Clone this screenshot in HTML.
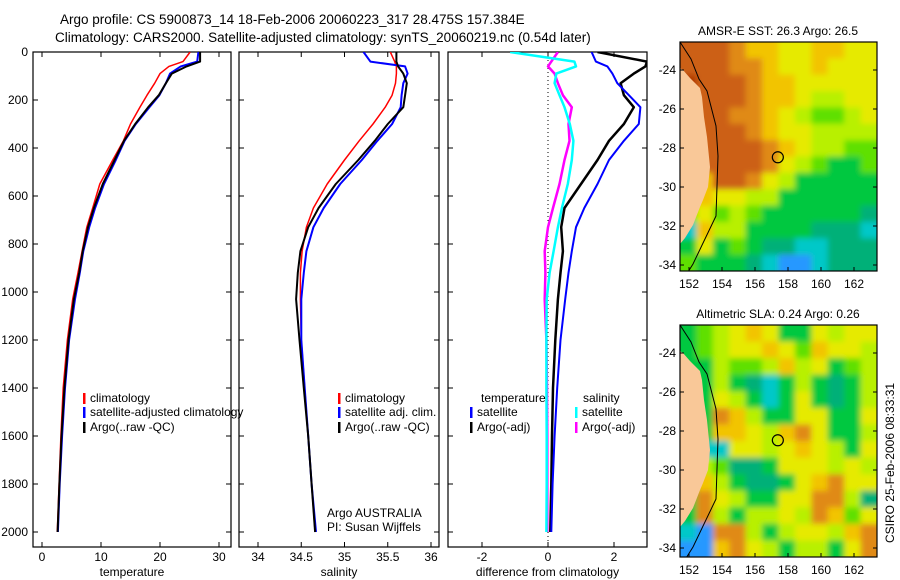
<!DOCTYPE html>
<html><head><meta charset="utf-8"><style>
body{margin:0;background:#fff}
svg{display:block;font-family:"Liberation Sans",sans-serif}
</style></head><body>
<svg id="s" width="900" height="580" xmlns="http://www.w3.org/2000/svg">
<defs>
<clipPath id="c1"><rect x="33" y="52" width="198" height="495"/></clipPath>
<clipPath id="c2"><rect x="239" y="52" width="200" height="495"/></clipPath>
<clipPath id="c3"><rect x="448" y="52" width="199" height="495"/></clipPath>
<clipPath id="cm1"><rect x="680" y="42" width="197" height="229"/></clipPath>
<clipPath id="cm2"><rect x="680" y="325" width="197" height="232"/></clipPath>
<filter id="bl" x="-10%" y="-10%" width="120%" height="120%"><feGaussianBlur stdDeviation="3"/></filter>
</defs>
<text x="60" y="24" font-size="13.5">Argo profile: CS 5900873_14 18-Feb-2006 20060223_317 28.475S 157.384E</text>
<text x="55" y="42" font-size="13.5">Climatology: CARS2000. Satellite-adjusted climatology: synTS_20060219.nc (0.54d later)</text>
<g id="g"></g>
</svg>
<script>
const depths=[0,40,60,90,130,180,230,300,370,450,550,650,730,830,920,1030,1200,1400,1600,1800,2000];
const tempClim=[25.1,23.9,21.5,20.0,19.1,17.8,16.6,15.0,13.8,12.0,9.8,8.6,7.6,6.8,6.1,5.2,4.3,3.6,3.2,2.9,2.6];
const tempSat=[26.5,26.3,23.5,21.7,21.0,19.9,18.2,15.9,14.0,12.5,10.5,9.0,8.0,7.0,6.4,5.6,4.6,3.9,3.4,3.0,2.7];
const tempArgo=[26.8,26.8,24.5,22.0,21.0,19.8,18.0,15.8,13.9,12.3,10.3,8.8,7.8,6.9,6.3,5.4,4.5,3.8,3.3,2.95,2.65];
const salClim=[35.53,35.58,35.6,35.6,35.59,35.55,35.47,35.33,35.17,35.0,34.8,34.64,34.56,34.51,34.49,34.49,34.5,34.54,34.58,34.62,34.66];
const salSat=[35.22,35.3,35.7,35.73,35.68,35.66,35.65,35.55,35.38,35.2,34.95,34.76,34.64,34.56,34.53,34.5,34.5,34.54,34.58,34.62,34.67];
const salArgo=[35.6,35.6,35.62,35.68,35.72,35.7,35.68,35.5,35.35,35.16,34.9,34.7,34.58,34.49,34.46,34.44,34.48,34.53,34.58,34.62,34.66];
const diffTempSat=[1.32,1.45,1.8,1.95,2.1,2.45,2.8,2.75,2.3,1.85,1.5,1.1,0.85,0.72,0.62,0.52,0.38,0.28,0.2,0.14,0.1];
const diffTempArgo=[1.5,3.0,2.95,2.6,2.2,2.3,2.6,2.3,1.85,1.5,1.0,0.5,0.4,0.45,0.38,0.3,0.22,0.15,0.12,0.1,0.07];
const diffSalSat=[-1.15,0.8,0.85,0.25,0.2,0.35,0.5,0.66,0.77,0.72,0.6,0.42,0.3,0.17,0.05,-0.04,-0.05,-0.05,-0.04,-0.04,-0.05];
const diffSalArgo=[0.3,0.1,0.0,0.2,0.3,0.45,0.72,0.62,0.65,0.5,0.35,0.15,0.0,-0.1,-0.08,-0.1,-0.05,-0.03,-0.02,-0.02,-0.02];
const depthTicks=[0,200,400,600,800,1000,1200,1400,1600,1800,2000];
const tempTicks=[0,10,20,30];
const salTicks=[34,34.5,35,35.5,36];
const diffTicks=[-2,0,2];
const lonTicks=[152,154,156,158,160,162];
const latTicks=[-24,-26,-28,-30,-32,-34];

const NS="http://www.w3.org/2000/svg";
const G=document.getElementById('g');
function mk(t,a,p){const e=document.createElementNS(NS,t);for(const k in a)e.setAttribute(k,a[k]);(p||G).appendChild(e);return e;}
const yD=d=>52+d*0.24;
const panels=[
 {x0:33,x1:231,map:v=>42+v*5.9,ticks:tempTicks,title:'temperature',clip:'c1',name:'temperature'},
 {x0:239,x1:439,map:v=>258+(v-34)*86.5,ticks:salTicks,title:'salinity',clip:'c2',name:'salinity'},
 {x0:448,x1:647,map:v=>548+v*33,ticks:diffTicks,title:'difference from climatology',clip:'c3',name:'difference'}];
panels.forEach((p,i)=>{
 const f=mk('rect',{x:p.x0,y:52,width:p.x1-p.x0,height:495,fill:'none',stroke:'#000','stroke-width':1.2});
 
 
 p.ticks.forEach(v=>{const x=p.map(v);
  mk('line',{x1:x,x2:x,y1:547,y2:542,stroke:'#000'});mk('line',{x1:x,x2:x,y1:52,y2:57,stroke:'#000'});
  const t=mk('text',{x:x,y:561,'font-size':12,'text-anchor':'middle'});t.textContent=v;
  
  });
 depthTicks.forEach(d=>{const y=yD(d);
  mk('line',{x1:p.x0,x2:p.x0+5,y1:y,y2:y,stroke:'#000'});mk('line',{x1:p.x1,x2:p.x1-5,y1:y,y2:y,stroke:'#000'});
  if(i==0){const t=mk('text',{x:28,y:y+4,'font-size':12,'text-anchor':'end'});t.textContent=d;
  
  }});
 const tt=mk('text',{x:(p.x0+p.x1)/2,y:576,'font-size':12,'text-anchor':'middle'});tt.textContent=p.title;
 
 
});
const zl=mk('line',{x1:548,x2:548,y1:52,y2:547,stroke:'#000','stroke-dasharray':'1 3'});


function series(p,vals,color,w,name){
 const pts=vals.map((v,k)=>p.map(v).toFixed(1)+','+yD(depths[k]).toFixed(1)).join(' ');
 const e=mk('polyline',{points:pts,fill:'none',stroke:color,'stroke-width':w,'clip-path':'url(#'+p.clip+')','stroke-linejoin':'round'});
 
 
}
series(panels[0],tempClim,'#f00',1.5,'temp-climatology-line');
series(panels[0],tempSat,'#00f',2,'temp-satellite-line');
series(panels[0],tempArgo,'#000',2,'temp-argo-line');
series(panels[1],salClim,'#f00',1.5,'sal-climatology-line');
series(panels[1],salSat,'#00f',2,'sal-satellite-line');
series(panels[1],salArgo,'#000',2,'sal-argo-line');
series(panels[2],diffSalArgo,'#f0f',2.5,'diff-sal-argo-line');
series(panels[2],diffSalSat,'#0ff',2.5,'diff-sal-satellite-line');
series(panels[2],diffTempArgo,'#000',2.5,'diff-temp-argo-line');
series(panels[2],diffTempSat,'#00f',2,'diff-temp-satellite-line');
function leg(x,y,c,txt,name){
 if(c) mk('rect',{x:x,y:y-9,width:2.5,height:11,fill:c});
 const t=mk('text',{x:x+(c?7:0),y:y,'font-size':12});t.textContent=txt;
 
 
}
leg(83,402,'#f00','climatology','legend-climatology');
leg(83,416,'#00f','satellite-adjusted climatology','legend-satellite');
leg(83,431,'#000','Argo(..raw -QC)','legend-argo');
leg(338,402,'#f00','climatology','legend2-climatology');
leg(338,416,'#00f','satellite adj. clim.','legend2-satellite');
leg(338,431,'#000','Argo(..raw -QC)','legend2-argo');
leg(481,402,null,'temperature','legend3-temperature-header');
leg(583,402,null,'salinity','legend3-salinity-header');
leg(470,416,'#00f','satellite','legend3-temp-satellite');
leg(470,431,'#000','Argo(-adj)','legend3-temp-argo');
leg(575,416,'#0ff','satellite','legend3-sal-satellite');
leg(575,431,'#f0f','Argo(-adj)','legend3-sal-argo');
const a1=mk('text',{x:327,y:517,'font-size':12});a1.textContent='Argo AUSTRALIA';


const a2=mk('text',{x:327,y:531,'font-size':12});a2.textContent='PI: Susan Wijffels';



const pal={R:'#b03800',O:'#cc6014',o:'#e08a18',Y:'#f2c400',y:'#e6ea00',L:'#b8f000',G:'#5ee000',g:'#00c840',T:'#00b078',C:'#00c8c8',B:'#2898ff'};
const sstGrid=["OOOoYYyyYYyy","OOOooYyyYyyy","ROOOoYYyyyyy","OOOOoYYyLLyy","OOOooYyLGGLy","OOOOoYyyLLLL","OOOOOoYyLLGG","yOOOOoyLGggG","YYOOoyLggggg","LYyyLLgggggg","GyGLGggggggT","CYLLggggTTTC","gygGgTTCCTTT","GgggTCBBCTTT"];
const slaGrid=["gGLyYyggyLyy","gGLyyYyGYyyL","ggLGGLYLygGL","ggLgTCgLgTgL","ggyLgCgygTgL","ggoYLggyyggy","ggYYyLYoyggL","gCCyyLyYyLgy","gLGTTgyyyLyL","gYLgTTgyYoyy","goyLggyyooLT","goLgLLyLoYGy","CBooLgLyyLYo","BBYoyLgLLgyo"];
const lonX=lon=>689+(lon-152)*16.5;
const coast=[[680,68],[683,70],[690,78],[695,83],[700,88],[702,97],[704,117],[707,137],[710,167],[708,187],[703,200],[700,207],[693,225],[685,238],[680,244]];
function drawMap(grid,top,bottom,clip,latY0,title,name){
 const gp=mk('g',{'clip-path':'url(#'+clip+')'});
 
 
 const rows=grid.length,cols=grid[0].length,cw=197/cols,ch=(bottom-top)/rows;
 const gb=mk('g',{filter:'url(#bl)'},gp);
 grid.forEach((r,i)=>{for(let j=-1;j<=cols;j++){const jj=Math.min(cols-1,Math.max(0,j));
   mk('rect',{x:680+j*cw,y:top+i*ch-(i==0?ch:0),width:cw+0.6,height:ch+0.6+(i==0||i==rows-1?ch:0),fill:pal[r[jj]]},gb);}});
 const off=top-42;
 mk('polygon',{points:coast.map(p=>p[0]+','+(p[1]+off)).join(' ')+' 670,'+(244+off)+' 670,'+(68+off),fill:'#f9c898'},gp);
 mk('polyline',{points:[[680,33],[691,50],[699,70],[707,82],[716,117],[718,147],[716,207],[704,232],[693,255],[683,271]].map(p=>p[0]+','+(p[1]+off+9)).join(' '),fill:'none',stroke:'#000','stroke-width':1},gp);
 mk('rect',{x:680,y:top,width:197,height:bottom-top,fill:'none',stroke:'#000','stroke-width':1.2});
 const lat=-28.475, lon=157.384;
 const c=mk('circle',{cx:lonX(lon),cy:latY0+(-24-lat)*19.5,r:5.5,fill:'none',stroke:'#000','stroke-width':1.2});
 
 
 lonTicks.forEach(l=>{const x=lonX(l);mk('line',{x1:x,x2:x,y1:bottom,y2:bottom-4,stroke:'#000'});
  const t=mk('text',{x:x,y:bottom+17,'font-size':12,'text-anchor':'middle'});t.textContent=l;
  
  });
 latTicks.forEach(l=>{const y=latY0+(-24-l)*19.5;mk('line',{x1:680,x2:684,y1:y,y2:y,stroke:'#000'});mk('line',{x1:877,x2:873,y1:y,y2:y,stroke:'#000'});
  const t=mk('text',{x:676,y:y+4,'font-size':12,'text-anchor':'end'});t.textContent=l;
  
  });
 const tt=mk('text',{x:778,y:top-7,'font-size':12,'text-anchor':'middle'});tt.textContent=title;
 
 
}
drawMap(sstGrid,42,271,'cm1',70,'AMSR-E SST: 26.3 Argo: 26.5','sst-map');
drawMap(slaGrid,325,557,'cm2',353,'Altimetric SLA: 0.24 Argo: 0.26','sla-map');
const cs=mk('text',{x:0,y:0,'font-size':12,'text-anchor':'middle',transform:'translate(894,463) rotate(-90)'});
cs.textContent='CSIRO 25-Feb-2006 08:33:31';


</script>
</body></html>
